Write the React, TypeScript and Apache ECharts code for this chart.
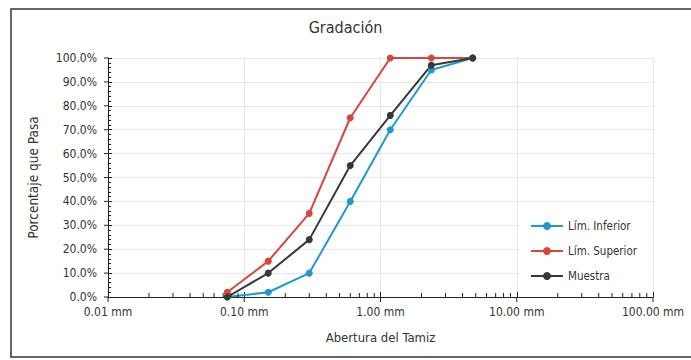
import React, { useEffect, useRef } from "react";
import * as echarts from "echarts";

// Sieve openings (mm) and percent passing
const sieveSizes = [0.075, 0.15, 0.3, 0.6, 1.18, 2.36, 4.75];
const limInferior = [0, 2, 10, 40, 70, 95, 100];
const limSuperior = [2, 15, 35, 75, 100, 100, 100];
const muestra = [0, 10, 24, 55, 76, 97, 100];

// Axis marks
const xDecades = [0.01, 0.1, 1, 10, 100];
const xMinorMultipliers = [2, 3, 4, 5, 6, 7, 8, 9];
const yMajorTicks = [0, 10, 20, 30, 40, 50, 60, 70, 80, 90, 100];

const FONT = "'Liberation Sans Narrow', 'DejaVu Sans Condensed', Arial, sans-serif";

export default function App() {
  const ref = useRef<HTMLDivElement>(null);

  useEffect(() => {
    if (!ref.current) return;
    const chart = echarts.init(ref.current, undefined, { renderer: "svg" });

    const pair = (ys: number[]) => sieveSizes.map((s, i) => [s, ys[i]]);

    // log-style minor ticks (2..9 within each decade) + outer halves of major ticks
    const xTickData: number[][] = [];
    xDecades.slice(0, -1).forEach((d) =>
      xMinorMultipliers.forEach((m) => xTickData.push([+(d * m).toPrecision(3), 0]))
    );
    xDecades.forEach((d) => xTickData.push([d, 1]));

    const lineSeries = (name: string, color: string, data: number[][]) => ({
      name,
      type: "line",
      data,
      symbol: "circle",
      symbolSize: 7,
      color,
      lineStyle: { width: 2, color },
      itemStyle: { color },
      z: 5,
    });

    const option: any = {
      animation: false,
      backgroundColor: "#ffffff",
      textStyle: { fontFamily: FONT },
      title: {
        text: "Gradación",
        left: "center",
        top: 14,
        textStyle: { fontFamily: FONT, fontSize: 16, fontWeight: "normal", color: "#333" },
      },
      grid: { left: 108, right: 38, top: 58, bottom: 63 },
      legend: {
        orient: "vertical",
        left: 520,
        top: 212,
        data: ["Lím. Inferior", "Lím. Superior", "Muestra"],
        itemWidth: 32,
        itemHeight: 10,
        itemGap: 13,
        padding: [8, 14, 8, 10],
        backgroundColor: "#ffffff",
        textStyle: { fontFamily: FONT, fontSize: 11.5, color: "#333" },
      },
      xAxis: {
        type: "log",
        logBase: 10,
        min: 0.01,
        max: 100,
        name: "Abertura del Tamiz",
        nameLocation: "middle",
        nameGap: 34,
        nameTextStyle: { fontFamily: FONT, fontSize: 13, color: "#333" },
        axisLine: { show: true, onZero: false, lineStyle: { color: "#222", width: 1 } },
        axisTick: { show: true, inside: true, length: 5, lineStyle: { color: "#222" } },
        axisLabel: {
          margin: 9,
          fontFamily: FONT,
          fontSize: 12,
          color: "#333",
          formatter: (v: number) => `${Number(v).toFixed(2)} mm`,
        },
        splitLine: { show: true, lineStyle: { color: "#e6e6e6", width: 1 } },
      },
      yAxis: {
        type: "value",
        min: 0,
        max: 100,
        interval: 10,
        name: "Porcentaje que Pasa",
        nameLocation: "middle",
        nameGap: 68,
        nameRotate: 90,
        nameTextStyle: { fontFamily: FONT, fontSize: 13.5, color: "#333" },
        axisLine: { show: true, lineStyle: { color: "#222", width: 1 } },
        axisTick: { show: true, inside: true, length: 4, lineStyle: { color: "#222" } },
        minorTick: { show: true, splitNumber: 5, length: 3, lineStyle: { color: "#222" } },
        axisLabel: {
          margin: 11,
          fontFamily: FONT,
          fontSize: 12,
          color: "#333",
          formatter: (v: number) => `${v.toFixed(1)}%`,
        },
        splitLine: { show: true, lineStyle: { color: "#e6e6e6", width: 1 } },
      },
      graphic: [
        {
          type: "rect",
          shape: { x: 11, y: 9, width: 720, height: 348 },
          style: { fill: "none", stroke: "#333", lineWidth: 1.5 },
          silent: true,
        },
      ],
      series: [
        lineSeries("Lím. Inferior", "#1c9ad0", pair(limInferior)),
        lineSeries("Lím. Superior", "#d8443e", pair(limSuperior)),
        lineSeries("Muestra", "#383838", pair(muestra)),
        {
          name: "xTicks",
          type: "custom",
          silent: true,
          clip: false,
          z: 6,
          data: xTickData,
          renderItem: (_p: any, api: any) => {
            const pt = api.coord([api.value(0), 0]);
            const major = api.value(1) === 1;
            return {
              type: "line",
              shape: major
                ? { x1: pt[0], y1: pt[1], x2: pt[0], y2: pt[1] + 5 }
                : { x1: pt[0], y1: pt[1], x2: pt[0], y2: pt[1] - 4 },
              style: { stroke: "#222", lineWidth: 1 },
            };
          },
        },
        {
          name: "yTicks",
          type: "custom",
          silent: true,
          clip: false,
          z: 6,
          data: yMajorTicks.map((v) => [0.01, v]),
          renderItem: (_p: any, api: any) => {
            const pt = api.coord([api.value(0), api.value(1)]);
            return {
              type: "line",
              shape: { x1: pt[0] - 4, y1: pt[1], x2: pt[0], y2: pt[1] },
              style: { stroke: "#222", lineWidth: 1 },
            };
          },
        },
      ],
    };

    chart.setOption(option);
    return () => chart.dispose();
  }, []);

  return (
    <div
      ref={ref}
      style={{ position: "fixed", left: 0, top: 0, width: 691, height: 360, background: "#fff" }}
    />
  );
}
